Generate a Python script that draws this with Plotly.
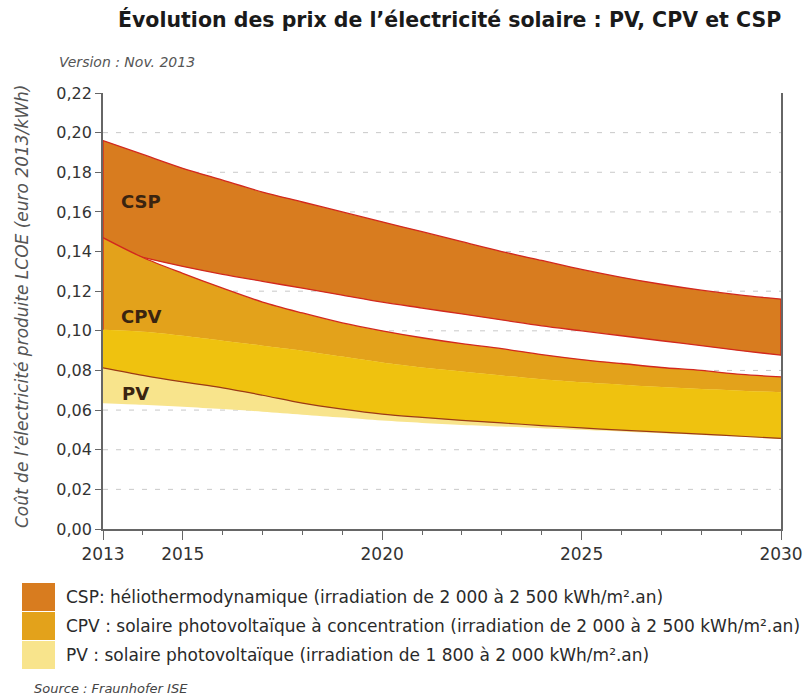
import numpy as np
import plotly.graph_objects as go

years = list(range(2013, 2031))
csp_high = [0.196, 0.189, 0.182, 0.176, 0.170, 0.165, 0.160, 0.155, 0.150, 0.145,
            0.140, 0.1355, 0.131, 0.127, 0.1235, 0.1205, 0.118, 0.116]
csp_low = [0.142, 0.137, 0.1325, 0.1285, 0.125, 0.1215, 0.118, 0.1145, 0.1115, 0.1085,
           0.1055, 0.1025, 0.100, 0.0975, 0.095, 0.0925, 0.090, 0.0877]
cpv_high = [0.147, 0.137, 0.129, 0.1215, 0.1145, 0.109, 0.104, 0.100, 0.0965, 0.0935,
            0.091, 0.088, 0.0855, 0.0835, 0.0815, 0.080, 0.078, 0.0768]
cpv_low = [0.0813, 0.0775, 0.0742, 0.0712, 0.0675, 0.0635, 0.0605, 0.058, 0.0563, 0.0548,
           0.0535, 0.0522, 0.051, 0.0499, 0.0489, 0.0479, 0.0468, 0.0457]
pv_high = [0.1005, 0.0995, 0.0975, 0.095, 0.0925, 0.090, 0.087, 0.084, 0.0815, 0.0795,
           0.0775, 0.0755, 0.074, 0.0728, 0.0716, 0.0706, 0.0698, 0.069]
pv_low = [0.0635, 0.0627, 0.0617, 0.0605, 0.0592, 0.0577, 0.0562, 0.0547, 0.0535, 0.0525,
          0.0517, 0.0509, 0.0501, 0.0492, 0.0483, 0.0474, 0.0465, 0.0455]

y_ticks = [0.00, 0.02, 0.04, 0.06, 0.08, 0.10, 0.12, 0.14, 0.16, 0.18, 0.20, 0.22]
y_tick_labels = ["0,00", "0,02", "0,04", "0,06", "0,08", "0,10", "0,12", "0,14",
                 "0,16", "0,18", "0,20", "0,22"]
x_ticks = [2013, 2015, 2020, 2025, 2030]
x_tick_labels = ["2013", "2015", "2020", "2025", "2030"]

title = "Évolution des prix de l’électricité solaire : PV, CPV et CSP"
version = "Version : Nov. 2013"
y_title = "Coût de l’électricité produite LCOE (euro 2013/kWh)"
source = "Source : Fraunhofer ISE"
legend_labels = [
    "CSP: héliothermodynamique (irradiation de 2 000 à 2 500 kWh/m².an)",
    "CPV : solaire photovoltaïque à concentration (irradiation de 2 000 à 2 500 kWh/m².an)",
    "PV : solaire photovoltaïque (irradiation de 1 800 à 2 000 kWh/m².an)",
]
band_labels = ["CSP", "CPV", "PV"]

C_CSP = "#D87C1F"
C_CPV = "#E3A21B"
C_OVER = "#EFC20F"
C_PV = "#F8E48C"
RED = "#D2281E"
DARK = "#9C3A16"
FONT = "DejaVu Sans"

W, H = 804, 697
L, R, T, B = 103, 23, 93, 168


def px(xp):
    return (xp - L) / (W - L - R)


def py(yp):
    return (H - B - yp) / (H - T - B)


fig = go.Figure()


def add_band(lo, hi, color, line_color=None, width=0):
    lw = dict(color=line_color or color, width=width, shape="spline", smoothing=0.9)
    fig.add_trace(go.Scatter(x=years, y=list(lo), mode="lines", line=lw, hoverinfo="skip"))
    fig.add_trace(go.Scatter(x=years, y=list(hi), mode="lines", line=lw, fill="tonexty",
                             fillcolor=color, hoverinfo="skip"))


def add_line(x, y, color, width=1.3):
    fig.add_trace(go.Scatter(x=x, y=list(y), mode="lines", hoverinfo="skip",
                             line=dict(color=color, width=width, shape="spline", smoothing=0.9)))


# CSP band with red outline
add_band(csp_low, csp_high, C_CSP, RED, 1.3)
add_line([years[0], years[0]], [csp_high[0], csp_low[0]], RED)
add_line([years[-1], years[-1]], [csp_high[-1], csp_low[-1]], RED)
# CPV, PV and their overlap
add_band(cpv_low, cpv_high, C_CPV)
add_band(pv_low, pv_high, C_PV)
over_hi = np.minimum(cpv_high, pv_high)
over_lo = np.maximum(cpv_low, pv_low)
add_band(over_lo, over_hi, C_OVER)
# outlines
add_line(years, cpv_high, RED)
add_line(years, cpv_low, DARK, 1.2)
add_line([years[0], years[0]], [cpv_high[0], pv_high[0]], RED)

shapes = []
for v in y_ticks[1:-1]:
    shapes.append(dict(type="line", xref="x", yref="y", x0=years[0], x1=years[-1], y0=v, y1=v,
                       line=dict(color="#C9C9C9", width=1, dash="5px,8px"), layer="below"))

leg_colors = [C_CSP, C_CPV, C_PV]
leg_rows = [(583, 611), (612, 640), (641, 669)]
for c, (y0, y1) in zip(leg_colors, leg_rows):
    shapes.append(dict(type="rect", xref="paper", yref="paper", x0=px(22), x1=px(55),
                       y0=py(y1), y1=py(y0), fillcolor=c, line=dict(width=0)))

annotations = [
    dict(text=f"<b>{title}</b>", x=px(449), y=py(20), xref="paper", yref="paper",
         showarrow=False, xanchor="center", yanchor="middle",
         font=dict(family=FONT, size=20.5, color="#1a1a1a")),
    dict(text=f"<i>{version}</i>", x=px(57), y=py(62), xref="paper", yref="paper",
         showarrow=False, xanchor="left", yanchor="middle",
         font=dict(family=FONT, size=14, color="#555555")),
    dict(text=f"<i>{y_title}</i>", x=px(22), y=py(307), xref="paper", yref="paper",
         showarrow=False, xanchor="center", yanchor="middle", textangle=-90,
         font=dict(family=FONT, size=17, color="#555555")),
    dict(text=f"<i>{source}</i>", x=px(32), y=py(688), xref="paper", yref="paper",
         showarrow=False, xanchor="left", yanchor="middle",
         font=dict(family=FONT, size=13, color="#444444")),
]
for lab, (y0, y1) in zip(legend_labels, leg_rows):
    annotations.append(dict(text=lab, x=px(64), y=py((y0 + y1) / 2), xref="paper", yref="paper",
                            showarrow=False, xanchor="left", yanchor="middle",
                            font=dict(family=FONT, size=17, color="#2a2a2a")))
band_pos = [(119, 201), (119, 316), (120, 393)]
for lab, (xp, yp) in zip(band_labels, band_pos):
    annotations.append(dict(text=f"<b>{lab}</b>", x=px(xp), y=py(yp), xref="paper", yref="paper",
                            showarrow=False, xanchor="left", yanchor="middle",
                            font=dict(family=FONT, size=18, color="#3a2410")))

fig.update_layout(
    width=W, height=H, autosize=False,
    margin=dict(l=L, r=R, t=T, b=B, pad=0, autoexpand=False),
    paper_bgcolor="white", plot_bgcolor="white",
    showlegend=False,
    shapes=shapes,
    annotations=annotations,
    xaxis=dict(range=[years[0], years[-1]], tickvals=x_ticks, ticktext=x_tick_labels,
               ticks="outside", ticklen=9, tickwidth=1.3, tickcolor="#666666",
               minor=dict(dtick=1, tick0=2013, ticks="outside", ticklen=4, tickwidth=1.2,
                          tickcolor="#666666", showgrid=False),
               showline=True, linecolor="#666666", linewidth=1.8, showgrid=False,
               zeroline=False, automargin=False,
               tickfont=dict(family=FONT, size=17, color="#333333")),
    yaxis=dict(range=[0, 0.22], tickvals=y_ticks, ticktext=y_tick_labels,
               ticks="outside", ticklen=6, tickwidth=1.3, tickcolor="#666666",
               showline=True, mirror=True, linecolor="#666666", linewidth=1.8,
               showgrid=False, zeroline=False, layer="below traces", automargin=False,
               tickfont=dict(family=FONT, size=16, color="#333333")),
)

fig.write_html(
    "out.html",
    config={"displayModeBar": False, "responsive": False},
    post_script="document.body.style.margin='0';document.body.style.overflow='hidden';",
)
